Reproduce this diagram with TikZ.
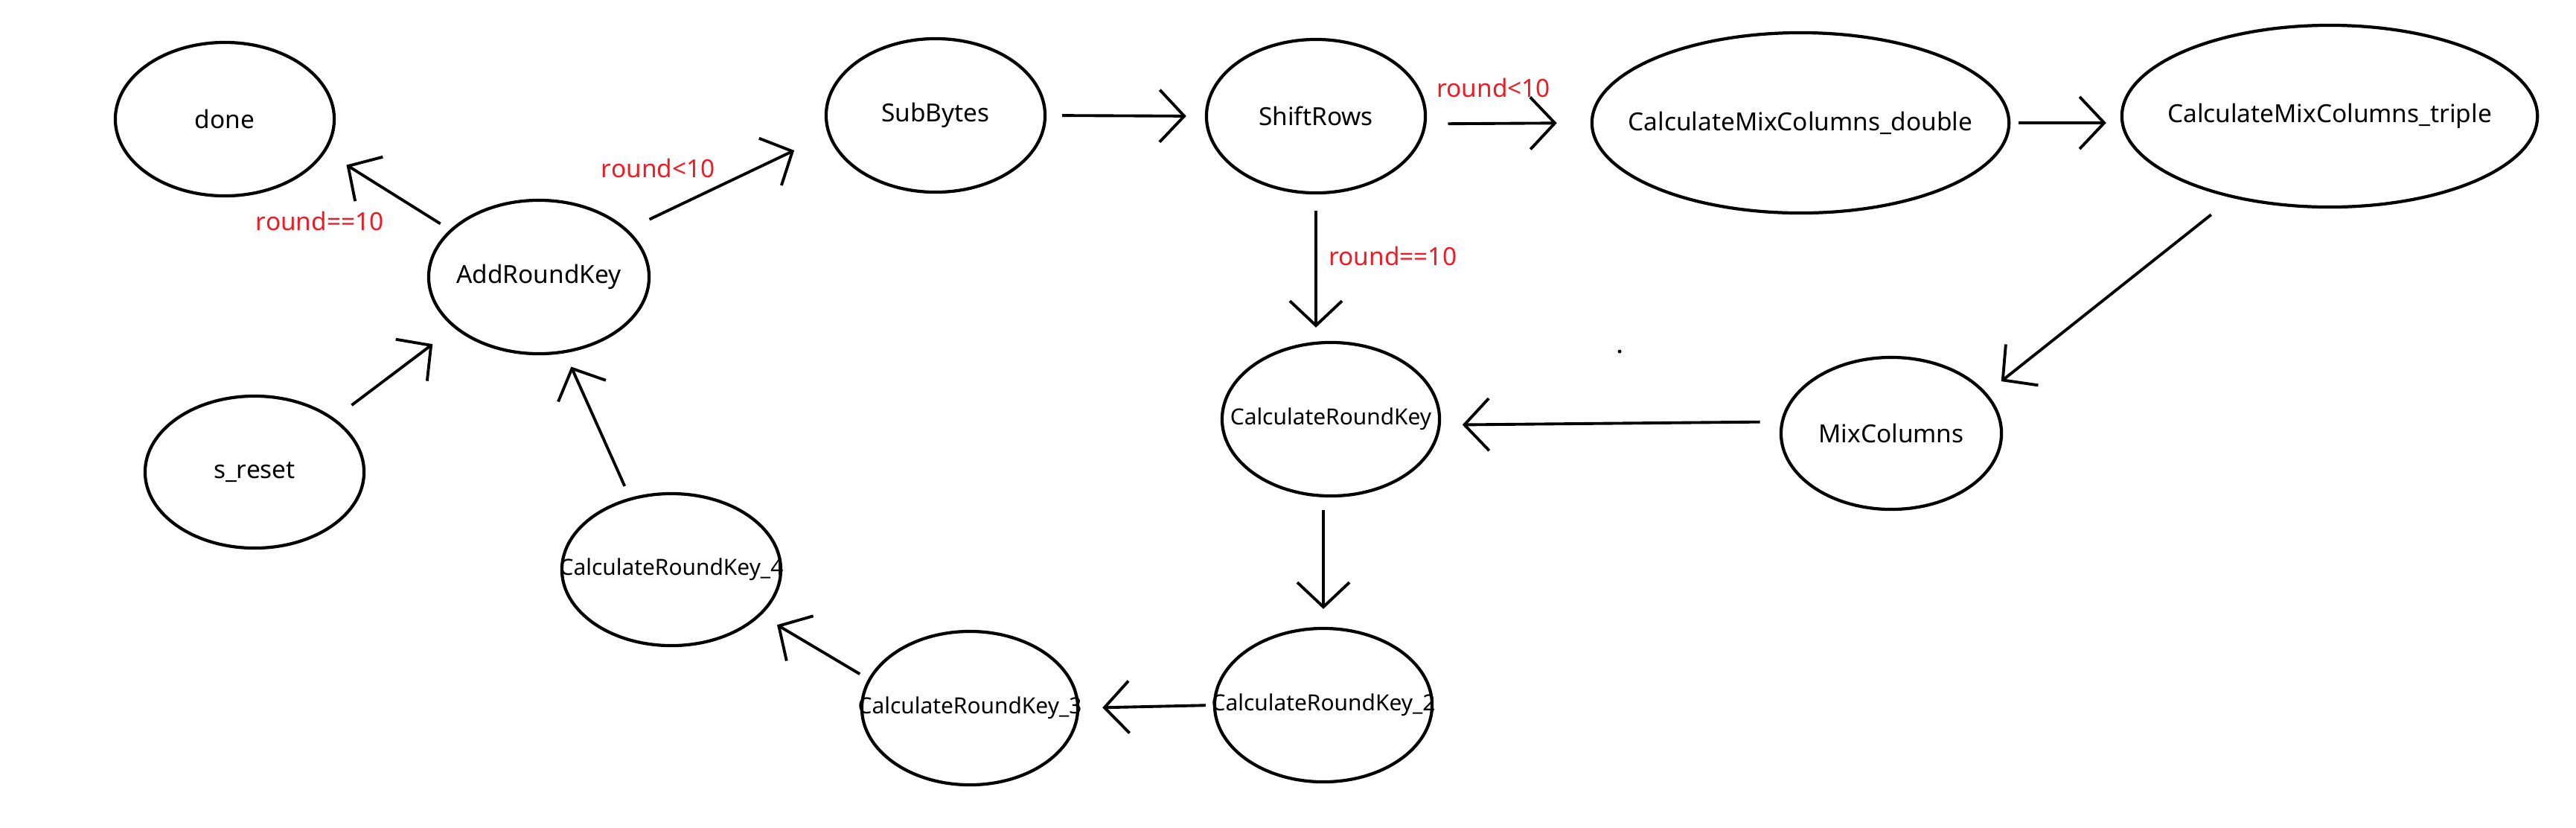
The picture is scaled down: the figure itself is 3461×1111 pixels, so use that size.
\documentclass[tikz,border=0pt]{standalone}
\usepackage{fontspec}
\setmainfont{Noto Sans}
\usepackage{tikz}
\usetikzlibrary{positioning}
\usetikzlibrary{shapes.geometric,arrows.meta}
\definecolor{condred}{RGB}{237,28,36}
% text of a state does not widen its ellipse
\newcommand{\statename}[1]{\makebox[0pt][c]{#1}}
\tikzstyle{state}=[ellipse,draw=black,line width=1.2pt,inner sep=0,font=\fontsize{9.5}{11}\selectfont]
\tikzstyle{keystate}=[state,font=\fontsize{8.5}{10}\selectfont]
\tikzstyle{trans}=[line width=1.1pt,-{Straight Barb[length=0.33cm,width=0.7cm]}]
\tikzstyle{cond}=[text=condred,font=\fontsize{9.5}{11}\selectfont,inner sep=1pt]

\begin{document}
\begin{tikzpicture}[x=0.01cm,y=-0.01cm]

      \useasboundingbox (0,0) rectangle (3461,1111);

      \node[state, minimum width=2.94cm, minimum height=2.06cm] (done) at (302,160) {\statename{done}};
      \node[state, minimum width=2.96cm, minimum height=2.06cm] (add_round_key) at (724,372) {\statename{AddRoundKey}};
      \node[state, minimum width=2.94cm, minimum height=2.04cm] (s_reset) at (342,634) {\statename{s\_reset}};
      \node[state, minimum width=2.94cm, minimum height=2.06cm] (sub_bytes) at (1257,155) {\statename{SubBytes}};
      \node[state, minimum width=2.94cm, minimum height=2.06cm] (shift_rows) at (1768,156) {\statename{ShiftRows}};
      \node[state, minimum width=5.60cm, minimum height=2.42cm] (mix_double) at (2419,165) {\statename{CalculateMixColumns\_double}};
      \node[state, minimum width=5.58cm, minimum height=2.44cm] (mix_triple) at (3130,156) {\statename{CalculateMixColumns\_triple}};
      \node[state, minimum width=2.96cm, minimum height=2.04cm] (mix_columns) at (2541,582) {\statename{MixColumns}};

      \node[keystate, minimum width=2.92cm, minimum height=2.06cm] (round_key) at (1788,563) {\statename{CalculateRoundKey}};
      \node[keystate, minimum width=2.92cm, minimum height=2.06cm] (round_key_2) at (1778,947) {\statename{CalculateRoundKey\_2}};
      \node[keystate, minimum width=2.90cm, minimum height=2.06cm] (round_key_3) at (1303,951) {\statename{CalculateRoundKey\_3}};
      \node[keystate, minimum width=2.94cm, minimum height=2.04cm] (round_key_4) at (902,765) {\statename{CalculateRoundKey\_4}};

      \draw[trans, shorten <=0.15cm, shorten >=0.33cm] (add_round_key.152) -- (done.-18)
            node[cond, midway, below left=0.22cm and 0cm] (cond_done) {round==10};
      \draw[trans, shorten <=0.32cm, shorten >=0.50cm] (add_round_key.28) -- (sub_bytes.190)
            node[cond, midway, anchor=south east, xshift=-0.12cm] (cond_sub) {round<10};
      \draw[trans, shorten <=0.29cm, shorten >=0.36cm] (s_reset.34) -- (add_round_key.211);
      \draw[trans, shorten <=0.17cm, shorten >=0.20cm] (round_key_4.120) -- (add_round_key.-71);
      \draw[trans, shorten <=0.13cm, shorten >=0.25cm] (round_key_3.164) -- (round_key_4.-27);

      \draw[trans, shorten <=0.21cm, shorten >=0.25cm] (sub_bytes.east) -- (shift_rows.west);
      \draw[trans, shorten <=0.29cm, shorten >=0.45cm] (shift_rows.-4) -- (mix_double.west)
            node[cond, pos=0.41, above=0.3cm] (cond_mix) {round<10};
      \draw[trans, shorten <=0.11cm, shorten >=0.19cm] (mix_double.east) -- (mix_double.east -| mix_triple.west);
      \draw[trans, shorten <=0.36cm, shorten >=0.25cm] (mix_triple.-140) -- (mix_columns.23);
      \draw[trans, shorten <=0.28cm, shorten >=0.29cm] (mix_columns.174) -- (round_key.-3);

      \draw[trans, shorten <=0.22cm, shorten >=0.18cm] (shift_rows.south) -- (shift_rows.south |- round_key.north)
            node[cond, pos=0.42, right=0.12cm] (cond_key) {round==10};
      \draw[trans, shorten <=0.17cm, shorten >=0.24cm] (round_key_2.north |- round_key.south) -- (round_key_2.north);
      \draw[trans, shorten <=0.10cm, shorten >=0.31cm] (round_key_2.west) -- (round_key_3.east);

      \fill (2176,472) circle (2.5);

\end{tikzpicture}
\end{document}
